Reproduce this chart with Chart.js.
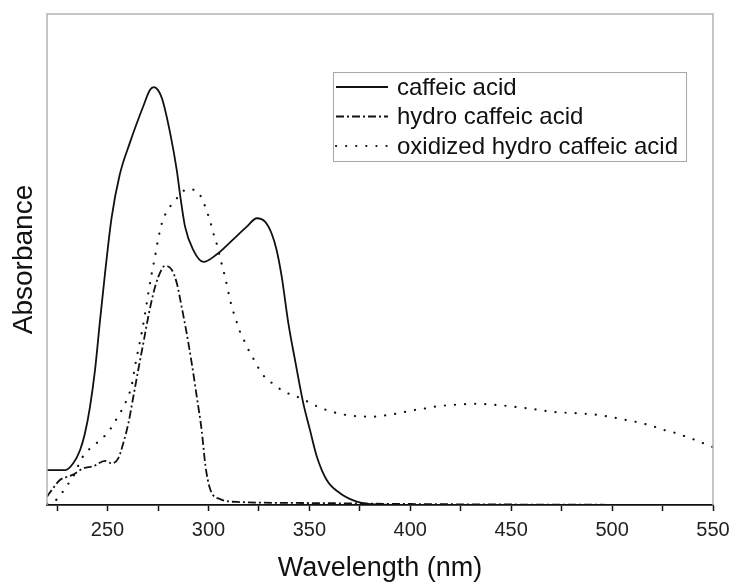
<!DOCTYPE html>
<html>
<head>
<meta charset="utf-8">
<script src="https://cdn.jsdelivr.net/npm/chart.js@4.4.0/dist/chart.umd.min.js"></script>
<style>
  html, body { margin: 0; padding: 0; background: #fff; }
  #wrap { width: 730px; height: 586px; position: relative; }
</style>
</head>
<body>
<div id="wrap"><canvas id="myChart"></canvas></div>
<script>
// wavelengths (nm) and absorbance
const caffeicNm = [220, 229, 233, 236.4, 238.8, 241.3, 243.8, 246.3, 248.7, 252, 256, 261, 267.6, 271, 273, 275, 277, 281, 284.3, 286, 288.4, 292.5, 297.5, 304, 312, 319, 324, 328, 331.3, 333.8, 336.3, 339.6, 342.9, 347, 350.3, 353.6, 358.6, 365.2, 373.5, 383, 395, 550];
const caffeicAbs = [0.071, 0.071, 0.085, 0.112, 0.146, 0.2, 0.275, 0.377, 0.47, 0.585, 0.672, 0.737, 0.811, 0.845, 0.851, 0.845, 0.828, 0.758, 0.682, 0.63, 0.567, 0.519, 0.495, 0.51, 0.54, 0.567, 0.584, 0.577, 0.553, 0.519, 0.465, 0.37, 0.295, 0.207, 0.153, 0.1, 0.051, 0.024, 0.007, 0.001, 0, 0];

const hydroNm = [220, 223, 226.4, 230.6, 233, 236, 238, 243, 248.7, 252, 255.3, 257.8, 260.3, 262.8, 265.2, 267.7, 270.2, 272.7, 275.2, 278.5, 281.8, 284.3, 286.7, 289.2, 291.7, 294.2, 296.7, 298.5, 300.8, 305.7, 315.6, 350, 400, 450, 550];
const hydroAbs = [0.017, 0.034, 0.051, 0.058, 0.062, 0.07, 0.075, 0.079, 0.09, 0.085, 0.095, 0.126, 0.166, 0.221, 0.275, 0.329, 0.384, 0.431, 0.465, 0.487, 0.479, 0.452, 0.404, 0.35, 0.289, 0.221, 0.15, 0.08, 0.033, 0.012, 0.006, 0.004, 0.002, 0.001, 0];

const oxidNm = [220, 225.6, 228.9, 233, 237.2, 241.3, 245.4, 250.4, 253.7, 257, 259.5, 262, 263.6, 265.2, 266.9, 268.6, 270.2, 271.9, 273.5, 275, 277, 279, 281, 285.1, 289.2, 294.2, 297.2, 299.1, 300.8, 302.1, 303.7, 306.2, 308.7, 310.7, 312.3, 314, 315.6, 318.1, 320.3, 323.1, 326.4, 331.3, 336.3, 341.3, 346.2, 351.2, 356.1, 361.1, 366, 371, 376.8, 381.7, 386.6, 391.6, 396.6, 401.5, 406.5, 411.4, 421.7, 431.7, 442, 451.9, 461.8, 472.1, 482.1, 492, 497, 502.3, 507.3, 512.2, 517.2, 522.1, 527.1, 532, 537.3, 542.2, 547.4, 550];
const oxidAbs = [0.003, 0.014, 0.034, 0.058, 0.095, 0.115, 0.129, 0.149, 0.17, 0.193, 0.214, 0.244, 0.282, 0.316, 0.35, 0.39, 0.431, 0.472, 0.505, 0.54, 0.575, 0.595, 0.608, 0.628, 0.643, 0.64, 0.62, 0.599, 0.579, 0.558, 0.538, 0.497, 0.456, 0.418, 0.394, 0.373, 0.353, 0.331, 0.312, 0.292, 0.268, 0.249, 0.234, 0.224, 0.217, 0.206, 0.197, 0.19, 0.185, 0.182, 0.18, 0.18, 0.182, 0.185, 0.189, 0.193, 0.196, 0.2, 0.204, 0.206, 0.204, 0.2, 0.195, 0.189, 0.187, 0.184, 0.181, 0.177, 0.173, 0.169, 0.164, 0.158, 0.151, 0.146, 0.138, 0.131, 0.122, 0.118];

const seriesNames = ['caffeic acid', 'hydro caffeic acid', 'oxidized hydro caffeic acid'];
const xTickLabels = [250, 300, 350, 400, 450, 500, 550];

const FONT = "'Liberation Sans', Arial, sans-serif";

function pts(xs, ys) {
  return xs.map((x, i) => ({ x: x, y: ys[i] }));
}

// gray frame round the plot, and the legend box inside it
const framePlugin = {
  id: 'frame',
  afterDatasetsDraw(chart) {
    const { ctx, chartArea: a } = chart;
    ctx.save();
    ctx.strokeStyle = '#b4b4b4';
    ctx.lineWidth = 1.5;
    ctx.beginPath();
    ctx.moveTo(a.left, a.bottom);
    ctx.lineTo(a.left, a.top);
    ctx.lineTo(a.right, a.top);
    ctx.lineTo(a.right, a.bottom);
    ctx.stroke();

    // legend
    const bx = 333, by = 72, bw = 353, bh = 89;
    ctx.fillStyle = '#fff';
    ctx.fillRect(bx, by, bw, bh);
    ctx.strokeStyle = '#a8a8a8';
    ctx.lineWidth = 1;
    ctx.strokeRect(bx + 0.5, by + 0.5, bw, bh);
    ctx.font = '24px ' + FONT;
    ctx.textBaseline = 'middle';
    chart.data.datasets.forEach((ds, i) => {
      const y = by + 15 + i * 29.5;
      ctx.strokeStyle = ds.borderColor;
      ctx.lineWidth = ds.borderWidth;
      ctx.lineCap = ds.borderCapStyle || 'butt';
      ctx.setLineDash(ds.borderDash || []);
      ctx.beginPath();
      ctx.moveTo(bx + 3, y);
      ctx.lineTo(bx + 55, y);
      ctx.stroke();
      ctx.setLineDash([]);
      ctx.fillStyle = '#111';
      ctx.fillText(ds.label, bx + 64, y + 1);
    });
    ctx.restore();
  }
};

new Chart(document.getElementById('myChart').getContext('2d'), {
  type: 'line',
  data: {
    datasets: [{
      label: seriesNames[0],
      data: pts(caffeicNm, caffeicAbs),
      borderColor: '#111',
      borderWidth: 1.8
    }, {
      label: seriesNames[1],
      data: pts(hydroNm, hydroAbs),
      borderColor: '#111',
      borderWidth: 1.8,
      borderDash: [8, 3, 2, 3]
    }, {
      label: seriesNames[2],
      data: pts(oxidNm, oxidAbs),
      borderColor: '#111',
      borderWidth: 2.2,
      borderCapStyle: 'round',
      borderDash: [0.1, 10]
    }]
  },
  options: {
    responsive: true,
    maintainAspectRatio: false,
    animation: false,
    layout: { padding: { top: 14, right: 17, left: 0, bottom: 0 } },
    elements: {
      point: { radius: 0 },
      line: { cubicInterpolationMode: 'monotone', fill: false }
    },
    plugins: {
      legend: { display: false },
      tooltip: { enabled: false }
    },
    scales: {
      x: {
        type: 'linear',
        min: 220,
        max: 550,
        afterFit(scale) {
          scale.height = 81;
          scale.paddingLeft = 0;
          scale.paddingRight = 0;
        },
        afterBuildTicks(scale) {
          const t = [];
          for (let v = 225; v <= 550; v += 25) t.push({ value: v });
          scale.ticks = t;
        },
        ticks: {
          autoSkip: false,
          maxRotation: 0,
          padding: 7,
          color: '#222',
          font: { family: FONT, size: 20 },
          callback: (v) => xTickLabels.includes(v) ? String(v) : ''
        },
        grid: {
          drawOnChartArea: false,
          drawTicks: true,
          tickLength: 6,
          tickWidth: 1.5,
          tickColor: '#111'
        },
        border: { display: true, color: '#111', width: 1.8 },
        title: {
          display: true,
          text: 'Wavelength (nm)',
          color: '#111',
          font: { family: FONT, size: 27 },
          padding: { top: 0, bottom: 1 }
        }
      },
      y: {
        min: 0,
        max: 1,
        afterFit(scale) { scale.width = 47; },
        ticks: { display: false },
        grid: { display: false },
        border: { display: false },
        title: {
          display: true,
          text: 'Absorbance',
          color: '#111',
          font: { family: FONT, size: 28 },
          padding: { top: 7, bottom: 0 }
        }
      }
    }
  },
  plugins: [framePlugin]
});
</script>
</body>
</html>
